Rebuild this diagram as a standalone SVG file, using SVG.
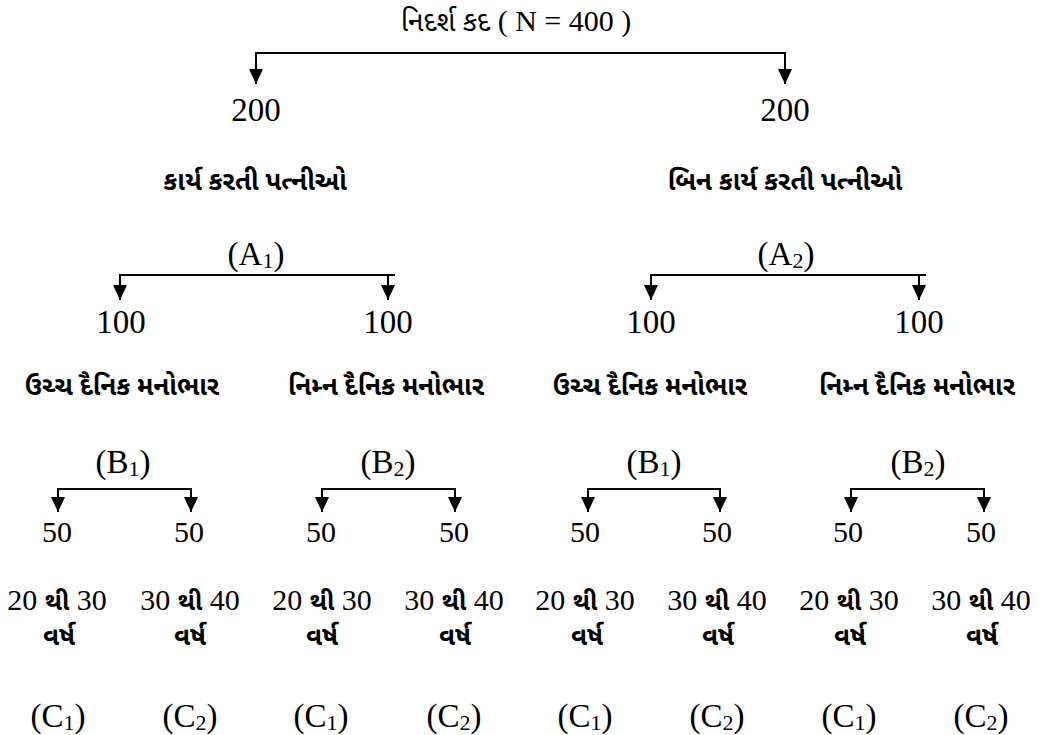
<svg xmlns="http://www.w3.org/2000/svg" width="1040" height="735" viewBox="0 0 1040 735">
<defs>
<marker id="ah" viewBox="0 0 15 14" refX="15" refY="7" markerWidth="15" markerHeight="14" markerUnits="userSpaceOnUse" orient="auto-start-reverse">
<path d="M0,0 L15,7 L0,14 z" fill="#000"/>
</marker>
</defs>
<style>
.num{font-family:"Liberation Serif","Times New Roman",serif;font-size:30px;fill:#000;text-anchor:middle}
.big{font-size:33px}
.lab{font-size:33px}
.guj{font-family:"Noto Sans Gujarati","Lohit Gujarati","Liberation Sans",sans-serif;font-weight:bold;font-size:26px;fill:#000;text-anchor:middle}
.gb{font-family:"Noto Sans Gujarati","Lohit Gujarati","Liberation Sans",sans-serif;font-weight:bold;font-size:25px}
.sub{font-size:22px}
.ln{fill:none;stroke:#000;stroke-width:2}
.ar{marker-start:url(#ah);marker-end:url(#ah)}
.as{marker-start:url(#ah)}
.ae{marker-end:url(#ah)}
</style>
<rect width="1040" height="735" fill="#fff"/>
<g id="connectors">
<path class="ln ar" d="M256,84 V53 H785 V84"/>
<path class="ln as" d="M120,300 V275 H395"/><path class="ln ae" d="M388,275 V300"/>
<path class="ln as" d="M651,300 V275 H926"/><path class="ln ae" d="M919,275 V300"/>
<path class="ln ar" d="M58,512 V489 H191 V512"/>
<path class="ln ar" d="M322,512 V489 H455 V512"/>
<path class="ln ar" d="M588,512 V489 H720 V512"/>
<path class="ln ar" d="M851,512 V489 H984 V512"/>
</g>
<g id="root">
<text class="num" x="516" y="31" style="font-size:30px"><tspan style="font-family:'Noto Sans Gujarati','Lohit Gujarati','Liberation Sans',sans-serif;font-size:28px">નિદર્શ કદ</tspan> ( N = 400 )</text>
</g>
<g id="n200L"><text class="num big" x="256" y="121">200</text><text class="guj" x="255" y="190">કાર્ય કરતી પત્નીઓ</text><text class="num lab" x="256" y="265">(A<tspan class="sub" dy="3">1</tspan><tspan dy="-3">)</tspan></text></g>
<g id="n200R"><text class="num big" x="785" y="121">200</text><text class="guj" x="785" y="190">બિન કાર્ય કરતી પત્નીઓ</text><text class="num lab" x="786" y="265">(A<tspan class="sub" dy="3">2</tspan><tspan dy="-3">)</tspan></text></g>
<g id="n100a"><text class="num big" x="121" y="333">100</text><text class="guj" x="122" y="395">ઉચ્ચ દૈનિક મનોભાર</text><text class="num lab" x="123" y="473">(B<tspan class="sub" dy="3">1</tspan><tspan dy="-3">)</tspan></text></g>
<g id="n100b"><text class="num big" x="388" y="333">100</text><text class="guj" x="386" y="395">નિમ્ન દૈનિક મનોભાર</text><text class="num lab" x="388" y="473">(B<tspan class="sub" dy="3">2</tspan><tspan dy="-3">)</tspan></text></g>
<g id="n100c"><text class="num big" x="651" y="333">100</text><text class="guj" x="650" y="395">ઉચ્ચ દૈનિક મનોભાર</text><text class="num lab" x="654" y="473">(B<tspan class="sub" dy="3">1</tspan><tspan dy="-3">)</tspan></text></g>
<g id="n100d"><text class="num big" x="919" y="333">100</text><text class="guj" x="917" y="395">નિમ્ન દૈનિક મનોભાર</text><text class="num lab" x="918" y="473">(B<tspan class="sub" dy="3">2</tspan><tspan dy="-3">)</tspan></text></g>
<g id="leaf1"><text class="num" x="57" y="542">50</text><text class="num" x="57" y="610">20 <tspan class="gb">થી</tspan> 30</text><text class="guj" x="59" y="645">વર્ષ</text><text class="num lab" x="58" y="727">(C<tspan class="sub" dy="3">1</tspan><tspan dy="-3">)</tspan></text></g>
<g id="leaf2"><text class="num" x="189" y="542">50</text><text class="num" x="190" y="610">30 <tspan class="gb">થી</tspan> 40</text><text class="guj" x="190" y="645">વર્ષ</text><text class="num lab" x="190" y="727">(C<tspan class="sub" dy="3">2</tspan><tspan dy="-3">)</tspan></text></g>
<g id="leaf3"><text class="num" x="321" y="542">50</text><text class="num" x="322" y="610">20 <tspan class="gb">થી</tspan> 30</text><text class="guj" x="322" y="645">વર્ષ</text><text class="num lab" x="321" y="727">(C<tspan class="sub" dy="3">1</tspan><tspan dy="-3">)</tspan></text></g>
<g id="leaf4"><text class="num" x="454" y="542">50</text><text class="num" x="454" y="610">30 <tspan class="gb">થી</tspan> 40</text><text class="guj" x="455" y="645">વર્ષ</text><text class="num lab" x="454" y="727">(C<tspan class="sub" dy="3">2</tspan><tspan dy="-3">)</tspan></text></g>
<g id="leaf5"><text class="num" x="585" y="542">50</text><text class="num" x="585" y="610">20 <tspan class="gb">થી</tspan> 30</text><text class="guj" x="587" y="645">વર્ષ</text><text class="num lab" x="585" y="727">(C<tspan class="sub" dy="3">1</tspan><tspan dy="-3">)</tspan></text></g>
<g id="leaf6"><text class="num" x="717" y="542">50</text><text class="num" x="717" y="610">30 <tspan class="gb">થી</tspan> 40</text><text class="guj" x="718" y="645">વર્ષ</text><text class="num lab" x="717" y="727">(C<tspan class="sub" dy="3">2</tspan><tspan dy="-3">)</tspan></text></g>
<g id="leaf7"><text class="num" x="848" y="542">50</text><text class="num" x="849" y="610">20 <tspan class="gb">થી</tspan> 30</text><text class="guj" x="850" y="645">વર્ષ</text><text class="num lab" x="849" y="727">(C<tspan class="sub" dy="3">1</tspan><tspan dy="-3">)</tspan></text></g>
<g id="leaf8"><text class="num" x="981" y="542">50</text><text class="num" x="981" y="610">30 <tspan class="gb">થી</tspan> 40</text><text class="guj" x="982" y="645">વર્ષ</text><text class="num lab" x="981" y="727">(C<tspan class="sub" dy="3">2</tspan><tspan dy="-3">)</tspan></text></g>
</svg>
